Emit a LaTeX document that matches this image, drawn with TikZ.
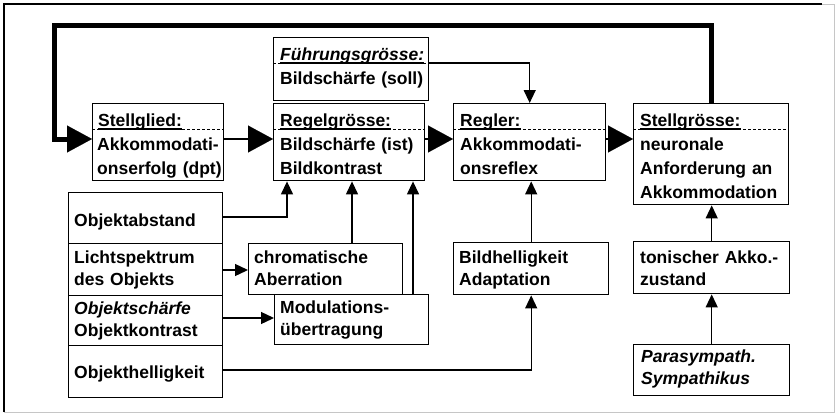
\documentclass[tikz,border=0pt]{standalone}
\usepackage{fontspec}
\setmainfont{Liberation Sans}
\usetikzlibrary{arrows.meta,calc}
\newcommand\strt{\rule{0pt}{14pt}}
\begin{document}
\begin{tikzpicture}[x=1pt,y=-1pt,
  box/.style={draw, line width=1.4pt, inner sep=0pt, anchor=north west},
  txt/.style={inner sep=0pt, anchor=north west, align=left, text width=150pt,
    font=\fontsize{17.5}{24}\selectfont\bfseries},
  txtlow/.style={txt, font=\fontsize{17.5}{22}\selectfont\bfseries},
  hdr/.style={inner sep=0pt, anchor=base west, font=\fontsize{17.5}{24}\selectfont\bfseries},
  sep/.style={line width=1pt, dash pattern=on 3pt off 2pt},
  uline/.style={line width=1.2pt},
  conn/.style={line width=1.3pt, -{Triangle[length=13pt,width=12pt]}},
  bigarrow/.style={line width=1.3pt, -{Triangle[length=25pt,width=27pt,line width=0.1pt]}},
  feedback/.style={line width=5pt, -{Triangle[length=25pt,width=27pt,line width=0.1pt]}}
]
\useasboundingbox (0,0) rectangle (837,415);
\fill[white] (0,0) rectangle (837,415);

% outer frame
\draw[line width=2pt] (4,412) -- (4,4) -- (822,4);
\draw[gray!45, line width=1pt] (822,4) -- (834,4) -- (834,412) -- (4,412);

% control loop boxes
\node[box, minimum width=131pt, minimum height=77pt] (sg) at (92,103) {};
\node[box, minimum width=155pt, minimum height=63pt] (fg) at (273,37) {};
\node[box, minimum width=151pt, minimum height=77pt] (rg) at (273,103) {};
\node[box, minimum width=152pt, minimum height=77pt] (rl) at (453,103) {};
\node[box, minimum width=155pt, minimum height=101pt] (stg) at (633,103) {};

% disturbance and input boxes
\node[box, minimum width=154pt, minimum height=51pt] (oa) at (68,192) {};
\node[box, minimum width=154pt, minimum height=52pt] (li) at (68,243) {};
\node[box, minimum width=154pt, minimum height=50pt] (os) at (68,295) {};
\node[box, minimum width=154pt, minimum height=52pt] (oh) at (68,345) {};
\node[box, minimum width=154pt, minimum height=51pt] (ch) at (248,243) {};
\node[box, minimum width=154pt, minimum height=50pt] (mu) at (274,294) {};
\node[box, minimum width=155pt, minimum height=52pt] (bh) at (453,242) {};
\node[box, minimum width=156pt, minimum height=52pt] (tn) at (633,241) {};
\node[box, minimum width=156pt, minimum height=51pt] (pa) at (633,344) {};

% headers with underline and dashed divider
\node[hdr] (sgh) at ([xshift=6pt,yshift=-23pt]sg.north west) {Stellglied:};
\node[hdr] (fgh) at ([xshift=7pt,yshift=-23pt]fg.north west) {\itshape Führungsgrösse:};
\node[hdr] (rgh) at ([xshift=7pt,yshift=-23pt]rg.north west) {Regelgrösse:};
\node[hdr] (rlh) at ([xshift=7pt,yshift=-23pt]rl.north west) {Regler:};
\node[hdr] (stgh) at ([xshift=7pt,yshift=-23pt]stg.north west) {Stellgrösse:};
\foreach \b in {sg,fg,rg,rl,stg}{
  \draw[sep] ([yshift=-26pt]\b.north west) -- ([yshift=-26pt]\b.north east);
  \draw[uline] ([yshift=-3pt]\b h.base west) -- ([yshift=-3pt]\b h.base east);
}

% box contents
\node[txt] (sgt) at ([xshift=5pt,yshift=-33pt]sg.north west) {\strt Akkommodati-\\onserfolg (dpt)};
\node[txt] (fgt) at ([xshift=7pt,yshift=-33pt]fg.north west) {\strt Bildschärfe (soll)};
\node[txt] (rgt) at ([xshift=7pt,yshift=-33pt]rg.north west) {\strt Bildschärfe (ist)\\Bildkontrast};
\node[txt] (rlt) at ([xshift=7pt,yshift=-33pt]rl.north west) {\strt Akkommodati-\\onsreflex};
\node[txt] (stgt) at ([xshift=7pt,yshift=-33pt]stg.north west) {\strt neuronale\\Anforderung an\\Akkommodation};

\node[txtlow] (oat) at ([xshift=6pt,yshift=-20pt]oa.north west) {\strt Objektabstand};
\node[txtlow] (lit) at ([xshift=6pt,yshift=-6pt]li.north west) {\strt Lichtspektrum\\des Objekts};
\node[txtlow] (ost) at ([xshift=6pt,yshift=-5pt]os.north west) {\strt\itshape Objektschärfe\\\upshape Objektkontrast};
\node[txtlow] (oht) at ([xshift=6pt,yshift=-19pt]oh.north west) {\strt Objekthelligkeit};
\node[txtlow] (cht) at ([xshift=6pt,yshift=-6pt]ch.north west) {\strt chromatische\\Aberration};
\node[txtlow] (mut) at ([xshift=6pt,yshift=-5pt]mu.north west) {\strt Modulations-\\übertragung};
\node[txtlow] (bht) at ([xshift=6pt,yshift=-7pt]bh.north west) {\strt Bildhelligkeit\\Adaptation};
\node[txtlow] (tnt) at ([xshift=7pt,yshift=-8pt]tn.north west) {\strt tonischer Akko.-\\zustand};
\node[txtlow] (pat) at ([xshift=8pt,yshift=-4pt]pa.north west) {\strt\itshape Parasympath.\\Sympathikus};

% main signal path
\coordinate (arow) at (0,139);
\draw[bigarrow] (sg.east |- arow) -- (rg.west |- arow);
\draw[bigarrow] (rg.east |- arow) -- (rl.west |- arow);
\draw[bigarrow] (rl.east |- arow) -- (stg.west |- arow);

% feedback loop
\coordinate (fbtop) at (0,25);
\coordinate (fbleft) at (54,0);
\draw[feedback, line join=miter] (stg.north) -- (stg.north |- fbtop) -- (fbleft |- fbtop)
  -- (fbleft |- arow) -- (sg.west |- arow);

% reference input
\draw[conn] ([yshift=-26pt]fg.north east) -| (rl.north);

% influences on the controlled variable
\draw[conn] ([yshift=-25pt]oa.north east) -| ([xshift=14pt]rg.south west);
\coordinate (c1) at ([xshift=104pt]ch.north west);
\draw[conn] (c1) -- (c1 |- rg.south);
\coordinate (c2) at ([xshift=139pt]mu.north west);
\draw[conn] (c2) -- (c2 |- rg.south);
\coordinate (c3) at ([yshift=-27pt]li.north east);
\draw[conn] (c3) -- (c3 -| ch.west);
\coordinate (c4) at ([yshift=-23pt]os.north east);
\draw[conn] (c4) -- (c4 -| mu.west);

% brightness path
\draw[conn] ([yshift=-25pt]oh.north east) -| (bh.south);
\draw[conn] (bh.north) -- (bh.north |- rl.south);

% tonic accommodation
\draw[conn] (pa.north) -- (tn.south);
\draw[conn] (tn.north) -- (tn.north |- stg.south);
\end{tikzpicture}
\end{document}
